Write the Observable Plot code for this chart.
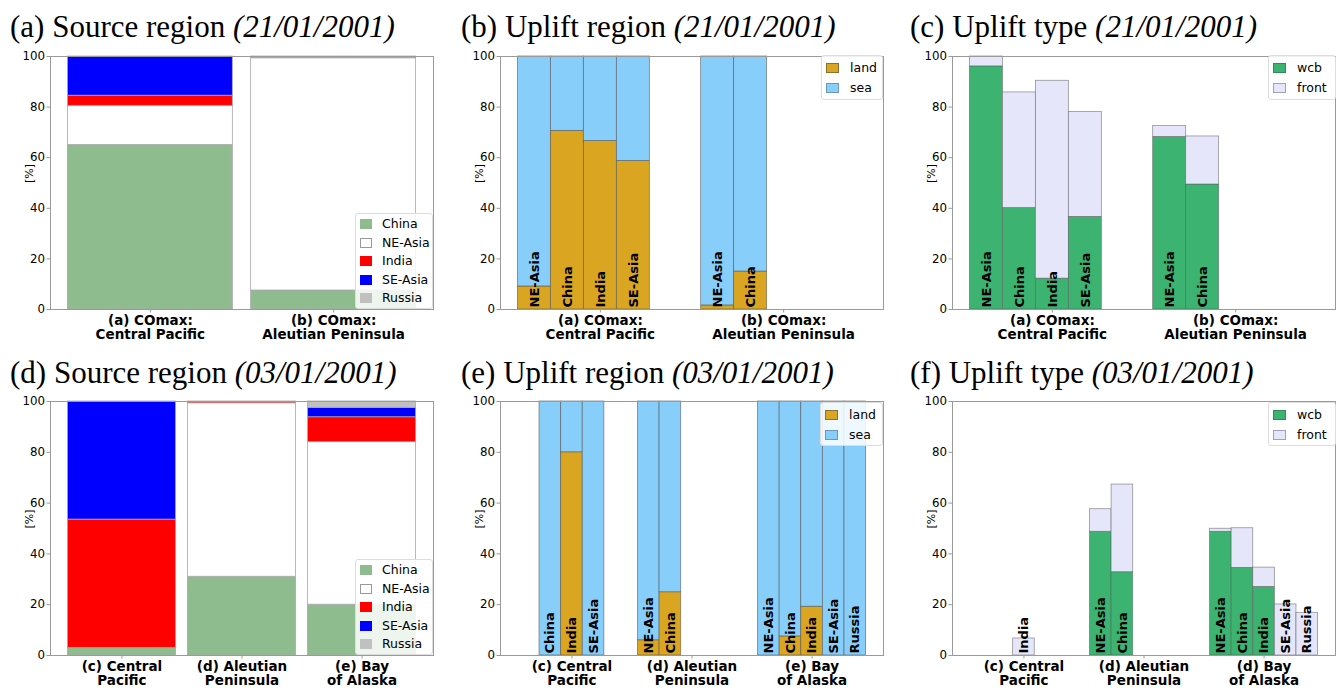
<!DOCTYPE html>
<html><head><meta charset="utf-8">
<script src="https://cdn.jsdelivr.net/npm/d3@7"></script>
<script src="https://cdn.jsdelivr.net/npm/@observablehq/plot@0.6"></script>
<style>
body{margin:0;background:#fff;}
#root{position:relative;width:1336px;height:688px;overflow:hidden;font-family:"DejaVu Sans";}
.title{position:absolute;font-family:"Liberation Serif";font-size:31px;white-space:nowrap;line-height:30px;color:#000;}
.title i{font-style:italic;}
.panel{position:absolute;}
.legend{position:absolute;background:rgba(255,255,255,0.85);border:1px solid #ddd;border-radius:3px;box-sizing:border-box;font-size:12.5px;font-family:"DejaVu Sans";}
.sw{position:absolute;box-sizing:border-box;}
.lt{position:absolute;line-height:14px;white-space:nowrap;}
</style>
</head><body><div id="root"></div>
<script>
// ---------------- data ----------------
const regions = ["China", "NE-Asia", "India", "SE-Asia", "Russia"];
const regionColors = ["#8fbc8f", "#ffffff", "#ff0000", "#0000ff", "#c0c0c0"];
const upliftOrder = ["NE-Asia", "China", "India", "SE-Asia", "Russia"];

const cats21 = ["(a) COmax:\nCentral Pacific", "(b) COmax:\nAleutian Peninsula"];
const catsSrc03 = ["(c) Central\nPacific", "(d) Aleutian\nPeninsula", "(e) Bay\nof Alaska"];
const catsType03 = ["(c) Central\nPacific", "(d) Aleutian\nPeninsula", "(d) Bay\nof Alaska"];

// source region shares [%] per category
const srcChina21 = [65, 7.5];
const srcNEAsia21 = [15.5, 91.8];
const srcIndia21 = [4, 0.3];
const srcSEAsia21 = [15.5, 0];
const srcRussia21 = [0, 0.4];

const srcChina03 = [3, 31, 20];
const srcNEAsia03 = [0, 68.3, 64];
const srcIndia03 = [50.5, 0.5, 9.8];
const srcSEAsia03 = [46.5, 0, 3.7];
const srcRussia03 = [0, 0.2, 2.5];

// uplift region: land share [%] (rows: categories, cols: NE-Asia, China, India, SE-Asia, Russia); sea = 100 - land
const land21 = [[9.1, 70.6, 66.6, 58.7, null], [1.6, 15.0, null, null, null]];
const land03 = [[null, 0, 80.0, 0, null], [6.0, 24.9, null, null, null], [0, 7.5, 19.2, 0, 0]];

// uplift type [%]
const wcb21 = [[96.1, 40.1, 12.2, 36.6, null], [68.2, 49.4, null, null, null]];
const front21 = [[3.9, 45.7, 78.2, 41.5, null], [4.3, 19.0, null, null, null]];
const wcb03 = [[null, null, 0, null, null], [48.7, 32.8, null, null, null], [48.7, 34.5, 27.0, 0, 0]];
const front03 = [[null, null, 6.7, null, null], [8.9, 34.5, null, null, null], [1.2, 15.6, 7.6, 20.1, 16.8]];

const yTicks = [0, 20, 40, 60, 80, 100];

// ---------------- helpers ----------------
const root = document.getElementById("root");
const W = 0.9, SLOT = W / 5;

function xDomain(n) { const span = n - 1 + W; const m = 0.05 * span; return [-W / 2 - m, n - 1 + W / 2 + m]; }

function sourceRows(series) {
  const rows = [];
  const n = series[0].length;
  for (let i = 0; i < n; i++) {
    let acc = 0;
    series.forEach((s, k) => {
      const v = s[i];
      if (v > 0) rows.push({x1: i - W / 2, x2: i + W / 2, y1: acc, y2: acc + v, key: regions[k]});
      acc += v;
    });
  }
  return rows;
}

function stackRows(lower, upper, keys, upperFromTotal) {
  const rows = [], labels = [];
  lower.forEach((row, i) => {
    row.forEach((v, j) => {
      if (v == null) return;
      const x1 = i - W / 2 + j * SLOT, x2 = x1 + SLOT;
      const top = upperFromTotal ? 100 : v + upper[i][j];
      if (v > 0) rows.push({x1, x2, y1: 0, y2: v, key: keys[0]});
      if (top - v > 0) rows.push({x1, x2, y1: v, y2: top, key: keys[1]});
      labels.push({x: (x1 + x2) / 2, name: upliftOrder[j]});
    });
  });
  return {rows, labels};
}

function makePanel({left, top, width, ml, mr, mb, cats, marks, colorDomain, colorRange}) {
  const n = cats.length;
  const svg = Plot.plot({
    width, height: 310, marginLeft: ml, marginRight: mr, marginTop: 16, marginBottom: mb,
    x: {type: "linear", domain: xDomain(n)},
    y: {domain: [0, 100]},
    color: {type: "ordinal", domain: colorDomain, range: colorRange},
    style: {fontFamily: "DejaVu Sans", background: "transparent", overflow: "visible", color: "#000"},
    marks: [
      ...marks,
      Plot.frame({stroke: "#9a9a9a", strokeWidth: 1}),
      Plot.axisY({ticks: yTicks, tickSize: 3.5, tickPadding: 2, stroke: "#9a9a9a", fontSize: 11.8, label: null}),
      Plot.axisX({ticks: d3.range(n), tickFormat: i => cats[i], tickSize: 3.5, tickPadding: 1, stroke: "#9a9a9a",
                  fontSize: 13.5, fontWeight: "bold", lineHeight: 1.1, label: null}),
      Plot.text(["[%]"], {text: d => d, frameAnchor: "left", dx: -21, rotate: -90, fontSize: 11})
    ]
  });
  const div = document.createElement("div");
  div.className = "panel";
  div.style.left = left + "px"; div.style.top = top + "px";
  div.appendChild(svg);
  root.appendChild(div);
}

function addTitle(left, top, main, date) {
  const d = document.createElement("div");
  d.className = "title";
  d.style.left = left + "px"; d.style.top = top + "px";
  d.innerHTML = main + " <i>" + date + "</i>";
  root.appendChild(d);
}

function addLegend(left, top, width, height, items, rowY, swX, swW, swH, txtX) {
  const L = document.createElement("div");
  L.className = "legend";
  Object.assign(L.style, {left: left + "px", top: top + "px", width: width + "px", height: height + "px"});
  items.forEach((it, k) => {
    const s = document.createElement("div");
    s.className = "sw";
    Object.assign(s.style, {left: swX + "px", top: (rowY[k] - swH / 2) + "px", width: swW + "px", height: swH + "px",
      background: it.color, border: "1px solid " + it.edge});
    L.appendChild(s);
    const t = document.createElement("div");
    t.className = "lt";
    Object.assign(t.style, {left: txtX + "px", top: (rowY[k] - 7.5) + "px"});
    t.textContent = it.label;
    L.appendChild(t);
  });
  root.appendChild(L);
}

function labelMark(labels) {
  return Plot.text(labels, {x: "x", y: () => 0, text: "name", rotate: -90, textAnchor: "start", dy: -2,
    fontWeight: "bold", fontSize: 13, fill: "#000"});
}

// ---------------- panels ----------------
const srcItems = regions.map((r, k) => ({label: r, color: regionColors[k], edge: k === 1 ? "#999" : regionColors[k]}));
const landItems = [{label: "land", color: "#daa520", edge: "#8a7030"}, {label: "sea", color: "#87cefa", edge: "#6a9ab8"}];
const typeItems = [{label: "wcb", color: "#3cb371", edge: "#2f8a58"}, {label: "front", color: "#e6e6fa", edge: "#a0a0b8"}];

// (a)
makePanel({left: 0, top: 40, width: 446, ml: 50, mr: 13, mb: 41, cats: cats21,
  colorDomain: regions, colorRange: regionColors,
  marks: [Plot.rect(sourceRows([srcChina21, srcNEAsia21, srcIndia21, srcSEAsia21, srcRussia21]),
    {x1: "x1", x2: "x2", y1: "y1", y2: "y2", fill: "key", stroke: "#a8a8a8", strokeWidth: 0.8})]});
addTitle(10, 12, "(a) Source region", "(21/01/2001)");
addLegend(355, 213, 78, 96, srcItems, [10, 29, 47, 66, 84], 4, 12, 10, 26);

// (b)
const b = stackRows(land21, null, ["land", "sea"], true);
makePanel({left: 445, top: 40, width: 446, ml: 55, mr: 8, mb: 41, cats: cats21,
  colorDomain: ["land", "sea"], colorRange: ["#daa520", "#87cefa"],
  marks: [Plot.rect(b.rows, {x1: "x1", x2: "x2", y1: "y1", y2: "y2", fill: "key", stroke: "#555", strokeOpacity: 0.7, strokeWidth: 0.8}),
          labelMark(b.labels)]});
addTitle(461, 12, "(b) Uplift region", "(21/01/2001)");
addLegend(821, 55, 62, 45, landItems, [12, 32], 4, 13, 10, 28);

// (c)
const c = stackRows(wcb21, front21, ["wcb", "front"], false);
makePanel({left: 890, top: 40, width: 446, ml: 62, mr: 1, mb: 41, cats: cats21,
  colorDomain: ["wcb", "front"], colorRange: ["#3cb371", "#e6e6fa"],
  marks: [Plot.rect(c.rows, {x1: "x1", x2: "x2", y1: "y1", y2: "y2", fill: "key", stroke: "#555", strokeOpacity: 0.6, strokeWidth: 0.8}),
          labelMark(c.labels)]});
addTitle(910, 12, "(c) Uplift type", "(21/01/2001)");
addLegend(1268, 55, 68, 45, typeItems, [12, 32], 4, 13, 10, 28);

// (d)
makePanel({left: 0, top: 385, width: 446, ml: 50, mr: 13, mb: 40, cats: catsSrc03,
  colorDomain: regions, colorRange: regionColors,
  marks: [Plot.rect(sourceRows([srcChina03, srcNEAsia03, srcIndia03, srcSEAsia03, srcRussia03]),
    {x1: "x1", x2: "x2", y1: "y1", y2: "y2", fill: "key", stroke: "#a8a8a8", strokeWidth: 0.8})]});
addTitle(10, 358, "(d) Source region", "(03/01/2001)");
addLegend(355, 559, 78, 96, srcItems, [10, 29, 47, 66, 84], 4, 12, 10, 26);

// (e)
const e = stackRows(land03, null, ["land", "sea"], true);
makePanel({left: 445, top: 385, width: 446, ml: 55, mr: 8, mb: 40, cats: catsSrc03,
  colorDomain: ["land", "sea"], colorRange: ["#daa520", "#87cefa"],
  marks: [Plot.rect(e.rows, {x1: "x1", x2: "x2", y1: "y1", y2: "y2", fill: "key", stroke: "#555", strokeOpacity: 0.7, strokeWidth: 0.8}),
          labelMark(e.labels)]});
addTitle(461, 358, "(e) Uplift region", "(03/01/2001)");
addLegend(820, 402, 63, 44, landItems, [12, 32], 4, 13, 10, 28);

// (f)
const f = stackRows(wcb03, front03, ["wcb", "front"], false);
makePanel({left: 890, top: 385, width: 446, ml: 62, mr: 1, mb: 40, cats: catsType03,
  colorDomain: ["wcb", "front"], colorRange: ["#3cb371", "#e6e6fa"],
  marks: [Plot.rect(f.rows, {x1: "x1", x2: "x2", y1: "y1", y2: "y2", fill: "key", stroke: "#555", strokeOpacity: 0.6, strokeWidth: 0.8}),
          labelMark(f.labels)]});
addTitle(910, 358, "(f) Uplift type", "(03/01/2001)");
addLegend(1268, 402, 68, 44, typeItems, [12, 32], 4, 13, 10, 28);
</script>
</body></html>
